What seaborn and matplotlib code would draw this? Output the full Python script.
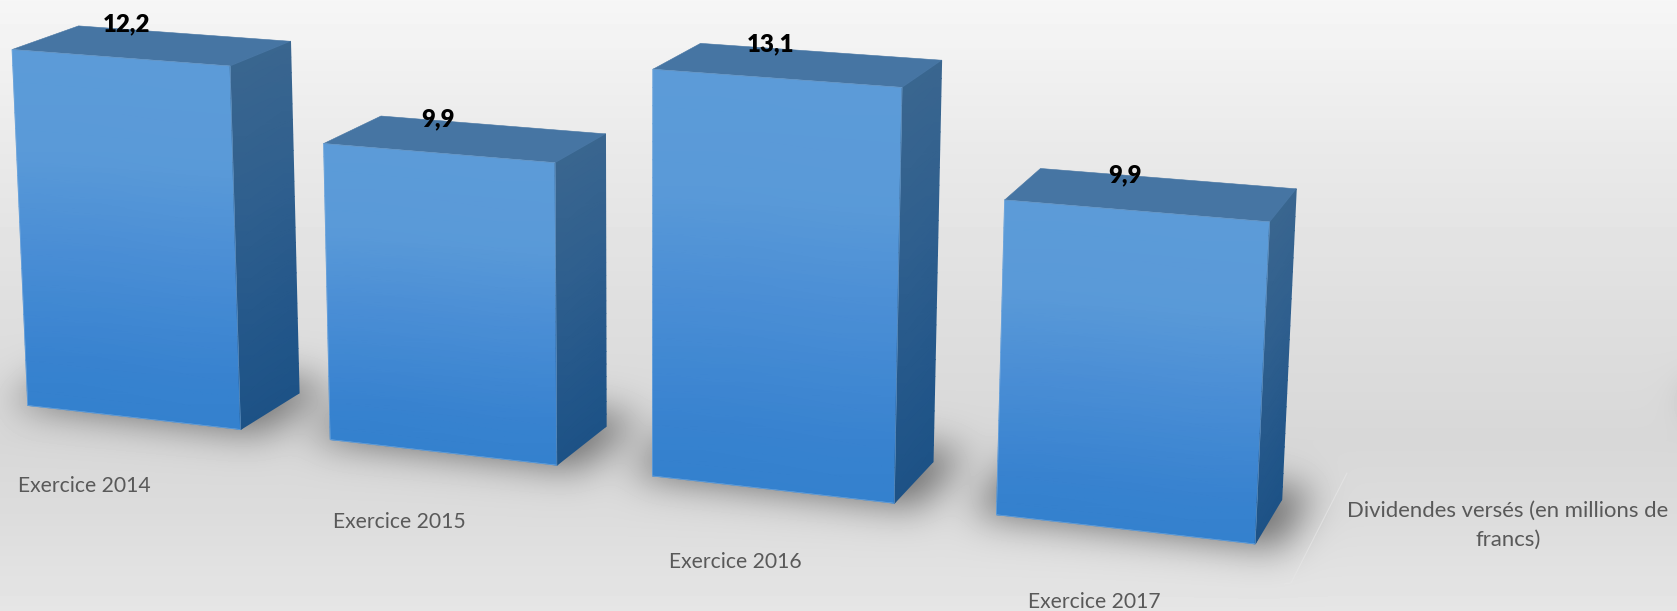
import numpy as np
import pandas as pd
import seaborn as sns
import matplotlib
matplotlib.use("Agg")
import matplotlib.pyplot as plt
from matplotlib.colors import LinearSegmentedColormap
from matplotlib.patches import Polygon
from matplotlib.path import Path
from matplotlib.transforms import Affine2D, Transform

# ---- data ----
categories = ["Exercice 2014", "Exercice 2015", "Exercice 2016", "Exercice 2017"]
values = [12.2, 9.9, 13.1, 9.9]
series_label = "Dividendes versés (en millions de\nfrancs)"

# ---- scene: the chart's 3D camera (category, value, depth) -> image pixel ----
W, H = 1677, 611
CAMERA = np.array([[295.52007032, -1.3242727, 68.21903407, 133.04049885],
                   [20.84291637, -29.59815542, -22.37900301, 417.2963882],
                   [-0.03103784, -0.00207565, 0.03469249, 1.0]])
BAR_WIDTH = 0.71


def project(x, y, z=0.0):
    x, y, z = np.broadcast_arrays(np.asarray(x, float), np.asarray(y, float), np.asarray(z, float))
    d = CAMERA[2, 0] * x + CAMERA[2, 1] * y + CAMERA[2, 2] * z + CAMERA[2, 3]
    u = CAMERA[0, 0] * x + CAMERA[0, 1] * y + CAMERA[0, 2] * z + CAMERA[0, 3]
    v = CAMERA[1, 0] * x + CAMERA[1, 1] * y + CAMERA[1, 2] * z + CAMERA[1, 3]
    return u / d, v / d


class CameraTransform(Transform):
    """Maps the bar axes (category, value) on to the front plane of the scene."""
    input_dims = output_dims = 2
    is_separable = False

    def transform_non_affine(self, xy):
        xy = np.asarray(xy, float)
        u, v = project(xy[:, 0], xy[:, 1])
        return np.column_stack([u, H - v])


sns.set_theme(style="white")
plt.rcParams["font.family"] = ["Lato", "DejaVu Sans"]

fig = plt.figure(figsize=(W / 100, H / 100), dpi=100)
PIX = Affine2D().scale(1, -1).translate(0, H)

# ---- background with floor shadows ----
bg_ax = fig.add_axes([0, 0, 1, 1], zorder=0)
bg_ax.set_axis_off()
rows = np.arange(H)
stops = [0, 60, 150, 300, 440, 520, 610]
greys = [0.965, 0.945, 0.915, 0.875, 0.845, 0.865, 0.90]
background = np.interp(rows, stops, greys)[:, None] * np.ones((H, W))
gx, gy = np.meshgrid(np.arange(W) + .5, rows + .5)
grid = np.column_stack([gx.ravel(), gy.ravel()])
mask = np.zeros((H, W))
for i in range(len(values)):
    l, r = i - BAR_WIDTH / 2 - .07, i + BAR_WIDTH / 2 + .07
    u, v = project(np.array([l, r, r, l]), np.zeros(4), np.array([-.02, -.02, 1.3, 1.3]))
    mask += Path(np.column_stack([u, v])).contains_points(grid).reshape(H, W)
sigma = 19.0
fy = np.fft.fftfreq(H)[:, None]
fx = np.fft.rfftfreq(W)[None, :]
blur = np.exp(-2 * (np.pi * sigma) ** 2 * (fx ** 2 + fy ** 2))
soft = np.clip(np.fft.irfft2(np.fft.rfft2(mask) * blur, s=(H, W)), 0, 1)
background = background * (1 - 0.5 * soft)
bg_ax.imshow(background, cmap="gray", vmin=0, vmax=1, aspect="auto", extent=(0, W, H, 0),
             interpolation="bilinear")
bg_ax.plot([1347, 1291, 1284], [473, 583, 584], color="#E6E6E6", lw=0.8, alpha=0.7)
bg_ax.set_xlim(0, W)
bg_ax.set_ylim(H, 0)

# ---- faces layer (numeric axes) below the seaborn bars layer ----
face_ax = fig.add_axes([0, 0, 1, 1], zorder=1)
face_ax.set_axis_off()

# ---- bars: seaborn front faces, seen through the camera ----
ax = fig.add_axes([0, 0, 1, 1], zorder=2)
frame = pd.DataFrame({"exercice": categories, "dividendes": values})
sns.barplot(data=frame, x="exercice", y="dividendes", width=BAR_WIDTH, color="#4A8DD4",
            saturation=1, ax=ax, legend=False, edgecolor="#7FB0E0", linewidth=0.35)
ax.set_axis_off()
ax.patch.set_alpha(0)
cam = CameraTransform()

front_map = LinearSegmentedColormap.from_list(
    "front", [(0, "#3481CE"), (.12, "#3782CF"), (.45, "#4A8ED5"), (.72, "#5A9AD8"), (1, "#5C9BD8")])
side_map = LinearSegmentedColormap.from_list(
    "side", [(0, "#1D5286"), (.2, "#225689"), (.6, "#2F5F8E"), (1, "#3A668F")])
TOP_COLOUR = "#4675A3"
STEPS = np.linspace(0, 1, 24)[:, None]


def shade(u, v, colormap):
    """Gouraud-shaded quad whose colour follows the height of the bar."""
    colour = np.hstack([STEPS, STEPS])
    face_ax.pcolormesh(u, v, colour, shading="gouraud", cmap=colormap, vmin=0, vmax=1,
                       transform=PIX, clip_on=False, zorder=3)


for i, bar in enumerate(ax.patches):
    bar.set_transform(cam)
    bar.set_clip_on(False)
    bar.set_zorder(4)
    bar.set_facecolor("none")
    x0, x1 = bar.get_x(), bar.get_x() + bar.get_width()
    h = bar.get_height()

    # front face gradient, inside the seaborn bar's own outline
    u, v = project(np.array([[x0, x1]]), STEPS * h)
    shade(u, v, front_map)

    # right-hand face
    u, v = project(x1, STEPS * h, np.array([[0.0, 1.0]]))
    shade(u, v, side_map)

    # top face
    u, v = project(np.array([x0, x1, x1, x0]), np.full(4, h), np.array([0, 0, 1, 1]))
    face_ax.add_patch(Polygon(np.column_stack([u, v]), closed=True, facecolor=TOP_COLOUR,
                              edgecolor=TOP_COLOUR, lw=0.4, transform=PIX, clip_on=False, zorder=3))

# ---- text ----
text_ax = fig.add_axes([0, 0, 1, 1], zorder=3)
text_ax.set_axis_off()
label_positions = [(84.5, 485.5), (399, 521.5), (735, 561.5), (1094, 601.5)]
for name, (px, py) in zip(categories, label_positions):
    text_ax.text(px, py, name, transform=PIX, ha="center", va="center", fontsize=15.2,
                 color="#595959", clip_on=False)

value_positions = [(126, 24), (438.5, 119), (771, 44), (1125, 175)]
for val, (px, py) in zip(values, value_positions):
    text_ax.text(px, py, f"{val:.1f}".replace(".", ","), transform=PIX, ha="center", va="center",
                 fontsize=17.3, fontweight="heavy", color="black", clip_on=False)

text_ax.text(1508, 525, series_label, transform=PIX, ha="center", va="center", fontsize=15.9,
             color="#595959", linespacing=1.55, clip_on=False)

fig.savefig("out.png", dpi=100)
